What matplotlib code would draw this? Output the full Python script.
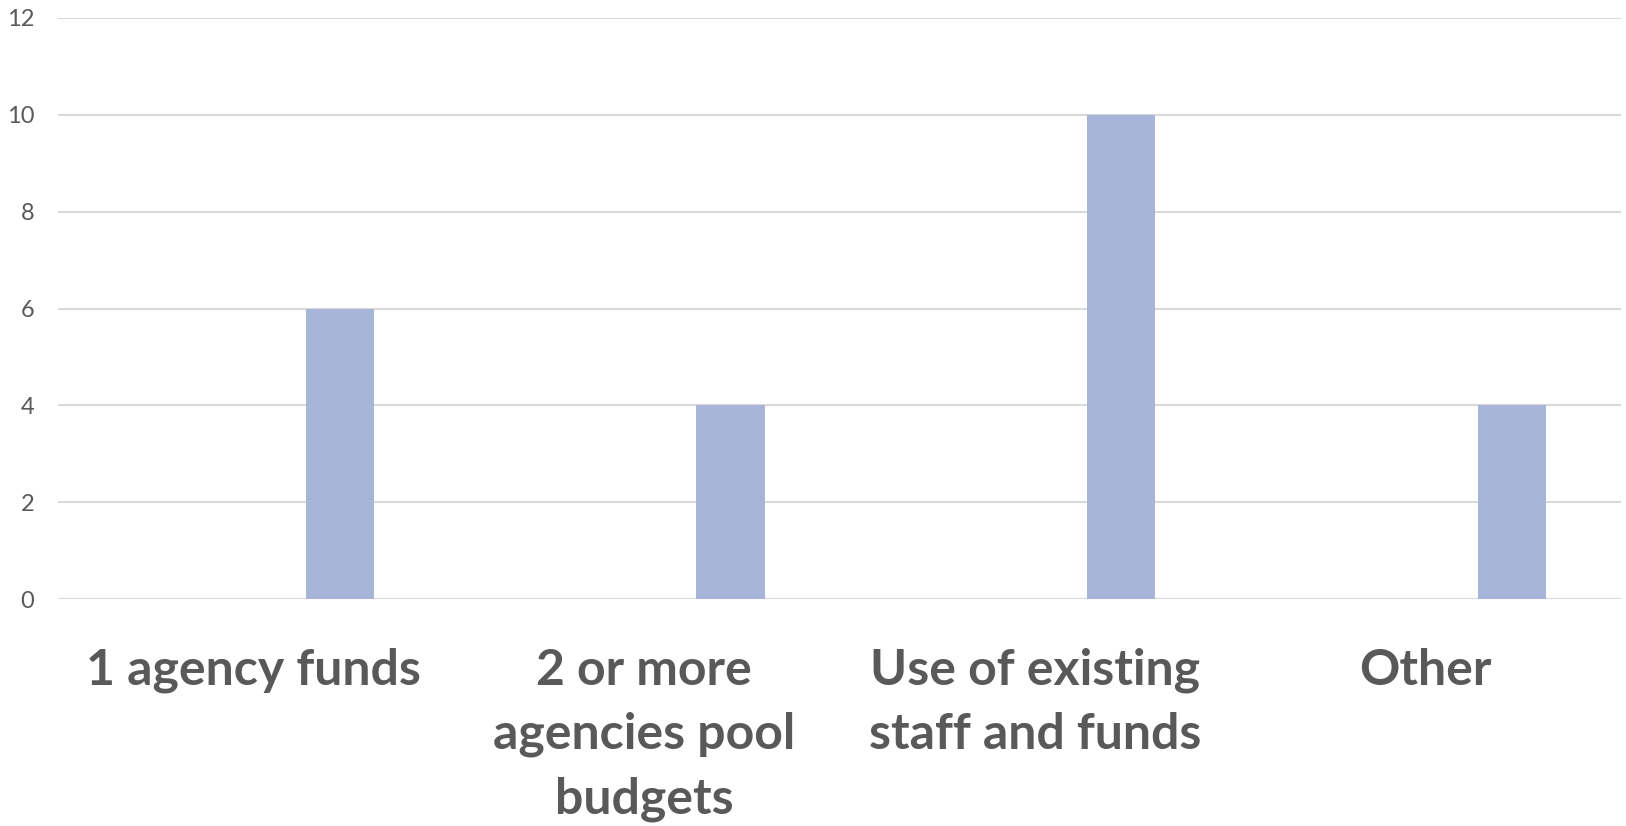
import numpy as np
import matplotlib.pyplot as plt

# dados do grafico
categorias = ['1 agency funds', '2 or more\nagencies pool\nbudgets',
              'Use of existing\nstaff and funds', 'Other']
valores = [6, 4, 10, 4]
ticks_y = [0, 2, 4, 6, 8, 10, 12]

plt.rcParams['font.family'] = ['Lato', 'DejaVu Sans']

fig = plt.figure(figsize=(16.26, 8.26), dpi=100)
ax = fig.add_axes([58/1626, 227/826, 1563/1626, 581/826])

x = np.arange(len(categorias))
# barra deslocada para a direita dentro de cada categoria (estilo excel)
ax.bar(x + 0.221, valores, width=0.175, color='#A7B5D9', zorder=3)

ax.set_xlim(-0.5, len(categorias) - 0.5)
ax.set_ylim(0, 12)
ax.set_yticks(ticks_y)
ax.grid(axis='y', color='#D9D9D9', linewidth=1.5, zorder=0)

ax.set_xticks(x)
ax.set_xticklabels(categorias, fontsize=36, fontweight='bold', color='#595959',
                   linespacing=1.52)
ax.tick_params(axis='x', length=0, pad=35)
ax.tick_params(axis='y', length=0, pad=17, labelsize=17, labelcolor='#595959')

for s in ax.spines.values():
    s.set_visible(False)

fig.savefig('out.png', dpi=100)
